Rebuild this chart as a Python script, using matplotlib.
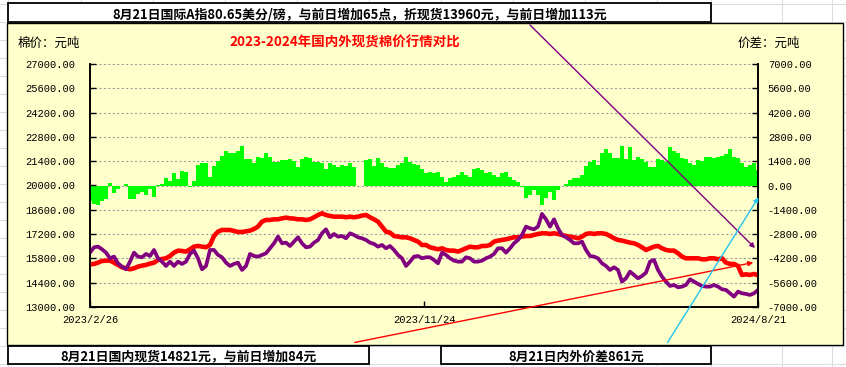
import numpy as np
import matplotlib
matplotlib.use("Agg")
import matplotlib.pyplot as plt
from matplotlib.patches import Rectangle, FancyArrowPatch
from matplotlib.lines import Line2D

plt.rcParams['font.family'] = ['Noto Sans CJK SC', 'DejaVu Sans']

# 国内现货 (元/吨), 左轴
domestic = [
    15460, 15480, 15556, 15652, 15672, 15672, 15556, 15422, 15288, 15230, 15172, 15230, 15326, 15384,
    15422, 15500, 15556, 15710, 15768, 15806, 15940, 16132, 16248, 16228, 16190, 16326, 16478, 16516,
    16478, 16440, 16574, 17092, 17342, 17438, 17438, 17438, 17380, 17322, 17322, 17360, 17400, 17496,
    17630, 17918, 18014, 18014, 18052, 18052, 18110, 18148, 18110, 18091, 18052, 18052, 18014, 18052,
    18168, 18302, 18398, 18302, 18244, 18206, 18206, 18206, 18168, 18206, 18168, 18206, 18264, 18302,
    18168, 18052, 17918, 17630, 17342, 17284, 17092, 17054, 17016, 17016, 16958, 16862, 16766, 16574,
    16574, 16440, 16382, 16326, 16382, 16286, 16248, 16248, 16190, 16286, 16382, 16478, 16440, 16440,
    16516, 16516, 16574, 16766, 16824, 16862, 16900, 16958, 17016, 17016, 17054, 17092, 17092, 17150,
    17208, 17246, 17246, 17208, 17246, 17208, 17150, 17092, 17054, 17016, 16958, 17054, 17208, 17246,
    17208, 17246, 17246, 17208, 17092, 16958, 16862, 16824, 16766, 16708, 16670, 16574, 16440, 16286,
    16382, 16478, 16516, 16382, 16286, 16248, 16248, 16094, 15902, 15806, 15806, 15806, 15806, 15748,
    15748, 15806, 15806, 15748, 15806, 15556, 15480, 15480, 15364, 14846, 14884, 14846, 14904, 14827,
]

# 国际A指折现货 (元/吨), 左轴
international = [
    16132, 16440, 16478, 16326, 16132, 15806, 15902, 15518, 15326, 15172, 15614, 16132, 15902, 15864,
    16056, 15940, 16286, 15806, 15614, 15364, 15614, 15364, 15614, 15480, 15614, 16056, 16248, 15806,
    15172, 15364, 16286, 16286, 15998, 15864, 15556, 15364, 15480, 15556, 15134, 15364, 16056, 15940,
    15902, 15998, 16094, 16382, 16670, 17054, 16670, 16708, 16516, 16766, 17016, 16670, 16440, 16478,
    16708, 16862, 17246, 17476, 17016, 17208, 17054, 17092, 16958, 17246, 17150, 17016, 16958, 16862,
    16708, 16632, 16478, 16574, 16382, 16516, 16286, 15998, 15806, 15364, 15614, 15902, 15940, 15806,
    15864, 15864, 15710, 15518, 16132, 15998, 15806, 15672, 15614, 15614, 15864, 15806, 15614, 15614,
    15672, 15806, 15902, 16056, 16382, 16382, 16132, 16382, 16670, 16862, 17150, 17630, 17534, 17476,
    17630, 18360, 18052, 17630, 18052, 17534, 17150, 17016, 16862, 16670, 16670, 16766, 16286, 15940,
    15902, 15806, 15518, 15364, 15134, 15288, 15134, 14462, 14654, 15038, 14846, 14654, 14788, 14980,
    15614, 15710, 15134, 14750, 14462, 14212, 14270, 14136, 14174, 14270, 14596, 14462, 14328, 14212,
    14174, 14174, 14270, 14174, 14020, 13982, 13790, 13598, 13886, 13790, 13752, 13694, 13790, 13982,
]

# 内外价差 (元/吨), 右轴
spread = [
    -900, -1050, -1150, -900, -800, 150, -450, -200, -50, 100, -750, -800, -500, -350,
    -550, -200, -650, 50, 100, 450, 250, 700, 350, 850, 750, -100, 250, 1200,
    1300, 1300, 500, 1100, 1400, 1700, 2000, 1900, 1850, 2000, 2300, 1500, 1500, 1300,
    1670, 1574, 1862, 1670, 1382, 1382, 1478, 1478, 1517, 1440, 1094, 1517, 1670, 1574,
    1382, 1382, 1286, 941, 1286, 1190, 1056, 1190, 1133, 1286, 1056, 0, 0, 1478,
    1517, 1133, 1574, 1286, 1056, 998, 998, 1190, 1286, 1670, 1382, 1248, 1190, 941,
    710, 749, 710, 749, 518, 173, 422, 518, 614, 749, 614, 518, 941, 998,
    902, 710, 806, 614, 518, 710, 806, 518, 326, 173, -58, -730, -538, -288,
    -538, -1114, -730, -403, -826, -250, -19, 96, 326, 422, 422, 614, 1133, 1382,
    1478, 1190, 1862, 2093, 1862, 1574, 1574, 2285, 1517, 2246, 1478, 1632, 1517, 1382,
    1056, 1094, 1517, 1478, 1382, 2208, 2016, 1901, 1574, 1517, 1286, 1190, 1478, 1440,
    1670, 1670, 1574, 1632, 1709, 1824, 2093, 1632, 1574, 1286, 1056, 1190, 1286, 900,
]

date_labels = ["2023/2/26", "2023/11/24", "2024/8/21"]
left_ticks = [13000, 14400, 15800, 17200, 18600, 20000, 21400, 22800, 24200, 25600, 27000]
right_ticks = [-7000, -5600, -4200, -2800, -1400, 0, 1400, 2800, 4200, 5600, 7000]

top_note = "8月21日国际A指80.65美分/磅，与前日增加65点，折现货13960元，与前日增加113元"
title = "2023-2024年国内外现货棉价行情对比"
note_left = "8月21日国内现货14821元，与前日增加84元"
note_right = "8月21日内外价差861元"

W, H = 846, 367
fig = plt.figure(figsize=(W / 100, H / 100), dpi=100)


def fx(px):
    return px / W


def fy(py):
    return 1 - py / H


# Excel 单元格网格
for ry in range(4, 367, 18):
    fig.add_artist(Line2D([0, 1], [fy(ry)] * 2, color='#DCDCDC', lw=0.8, zorder=-3))
for cx in [8, 81, 153, 225, 297, 369, 441, 513, 585, 657, 711, 782, 832]:
    fig.add_artist(Line2D([fx(cx)] * 2, [0, 1], color='#DCDCDC', lw=0.8, zorder=-3))

# 图表区
fig.add_artist(Rectangle((fx(7), fy(345)), fx(843) - fx(7), (345 - 23) / H, transform=fig.transFigure,
                         facecolor='#FFFFCC', edgecolor='black', lw=1.0, zorder=-2))

# 文本框
for x0, x1, y0, y1 in [(8, 711, 3, 22), (8, 369, 346, 364), (441, 711, 346, 364)]:
    fig.add_artist(Rectangle((fx(x0), fy(y1)), fx(x1) - fx(x0), (y1 - y0) / H, transform=fig.transFigure,
                             facecolor='white', edgecolor='black', lw=1.3, zorder=-1))

fig.text(fx(360), fy(14.5), top_note, ha='center', va='center', fontsize=9.3, fontweight='bold')
fig.text(fx(188), fy(356.5), note_left, ha='center', va='center', fontsize=9.3, fontweight='bold')
fig.text(fx(576), fy(356.5), note_right, ha='center', va='center', fontsize=9.3, fontweight='bold')
fig.text(fx(345), fy(43), title, ha='center', va='center', fontsize=9.7, fontweight='bold', color='red')
fig.text(fx(18), fy(43), "棉价：元吨", ha='left', va='center', fontsize=9)
fig.text(fx(738), fy(43), "价差：元吨", ha='left', va='center', fontsize=9)

# 坐标轴
ax = fig.add_axes([fx(90), fy(307), fx(758) - fx(90), (307 - 64) / H])
ax2 = ax.twinx()
ax.set_zorder(2)
ax2.set_zorder(1)
ax.patch.set_visible(False)
ax2.patch.set_visible(False)

x = np.arange(len(domestic))

ax2.bar(x, spread, width=0.85, color='#00FF00', linewidth=0)
ax2.set_ylim(-7000, 7000)
ax2.set_yticks(right_ticks)
ax2.set_yticklabels([f"{v:.2f}" for v in right_ticks], fontfamily='Liberation Mono', fontsize=7.5)
ax2.grid(axis='y', color='#A0A0A0', linestyle=(0, (2, 2)), lw=0.8)
ax2.set_axisbelow(True)

ax.plot(x, domestic, color='#FF0000', lw=3.3, solid_joinstyle='round', solid_capstyle='round')
ax.plot(x, international, color='#800080', lw=2.7, solid_joinstyle='round', solid_capstyle='round')
ax.set_xlim(0, len(domestic) - 1)
ax.set_ylim(13000, 27000)
ax.set_yticks(left_ticks)
ax.set_yticklabels([f"{v:.2f}" for v in left_ticks], fontfamily='Liberation Mono', fontsize=7.5)
ax.set_xticks([0, (len(domestic) - 1) / 2, len(domestic) - 1])
ax.set_xticklabels(date_labels, fontfamily='Liberation Mono', fontsize=7.5)

ax.tick_params(axis='y', direction='in', length=4, width=1, pad=10.5)
ax2.tick_params(axis='y', direction='in', length=4, width=1, pad=7)
ax.tick_params(axis='x', direction='in', length=4, width=1, pad=6)

for a in (ax, ax2):
    a.spines['top'].set_visible(False)
    for s in ('left', 'right', 'bottom'):
        a.spines[s].set_linewidth(1.2)
        a.spines[s].set_color('black')

# 说明箭头
for (xa, ya), (xb, yb), c in [((528, 23), (757, 250), '#800080'),
                             ((352, 343), (756, 262), '#FF0000'),
                             ((666, 345), (760, 195), '#22C4F0')]:
    fig.add_artist(FancyArrowPatch((fx(xa), fy(ya)), (fx(xb), fy(yb)), transform=fig.transFigure,
                                   arrowstyle='-|>', mutation_scale=7, color=c, lw=1.0, zorder=5))

fig.savefig("out.png", dpi=100)
